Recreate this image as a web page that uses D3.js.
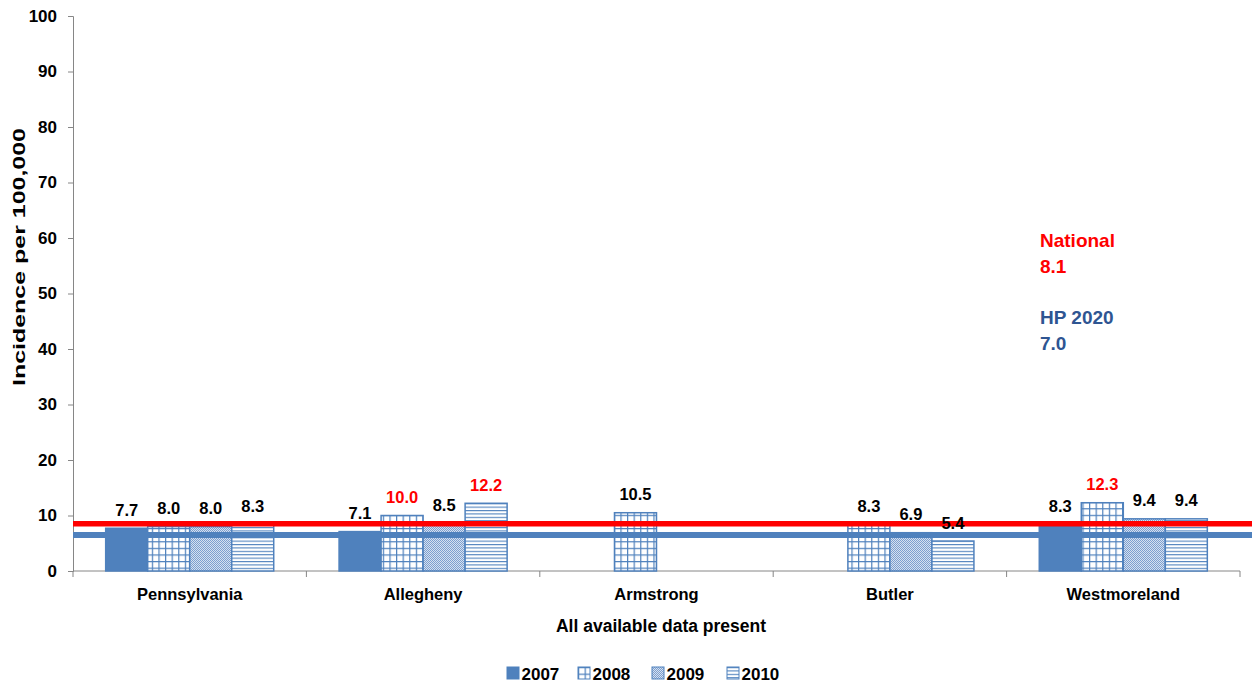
<!DOCTYPE html>
<html><head><meta charset="utf-8">
<script src="https://cdn.jsdelivr.net/npm/d3@7"></script>
<style>body{margin:0;background:#fff;} text{font-family:"Liberation Sans",Arial,sans-serif;}</style>
</head><body><svg id="c" width="1252" height="683"></svg>
<script>
const categories = ["Pennsylvania","Allegheny","Armstrong","Butler","Westmoreland"];
const years = ["2007","2008","2009","2010"];
const v2007 = [7.7, 7.1, null, null, 8.3];
const v2008 = [8.0, 10.0, 10.5, 8.3, 12.3];
const v2009 = [8.0, 8.5, null, 6.9, 9.4];
const v2010 = [8.3, 12.2, null, 5.4, 9.4];
const redLabels = [[1,"2008"],[1,"2010"],[4,"2008"]];
const yTicks = [0,10,20,30,40,50,60,70,80,90,100];
const refLineValues = [8.5, 6.5]; // drawn positions of National / HP 2020 lines
const refLabels = [["National","8.1"],["HP 2020","7.0"]];

(function(){
const series = [v2007, v2008, v2009, v2010];
const svg = d3.select("#c");
const blue = "#4F81BD";
const pLeft = 73, pRight = 1240, pTop = 16, pBottom = 571;

const defs = svg.append("defs");
let p = defs.append("pattern").attr("id","p2008").attr("patternUnits","userSpaceOnUse").attr("width",6.6).attr("height",6.6);
p.append("rect").attr("width",6.6).attr("height",6.6).attr("fill","#fff");
p.append("rect").attr("x",0).attr("y",0).attr("width",1.2).attr("height",6.6).attr("fill",blue);
p.append("rect").attr("x",0).attr("y",0).attr("width",6.6).attr("height",1.2).attr("fill",blue);
p = defs.append("pattern").attr("id","p2009").attr("patternUnits","userSpaceOnUse").attr("width",2).attr("height",2);
p.append("rect").attr("width",2).attr("height",2).attr("fill","#d6e1f0");
p.append("rect").attr("width",1).attr("height",1).attr("fill","#7d9fcf");
p.append("rect").attr("x",1).attr("y",1).attr("width",1).attr("height",1).attr("fill","#7d9fcf");
p = defs.append("pattern").attr("id","p2010").attr("patternUnits","userSpaceOnUse").attr("width",4).attr("height",3.4);
p.append("rect").attr("width",4).attr("height",3.4).attr("fill","#fff");
p.append("rect").attr("y",0).attr("width",4).attr("height",1.1).attr("fill",blue);
const fills = [blue, "url(#p2008)", "url(#p2009)", "url(#p2010)"];

const x = d3.scaleBand().domain(categories).range([pLeft,pRight]).paddingInner(0).paddingOuter(0);
const bw = x.bandwidth()*0.18;
const xs = d3.scaleBand().domain(years).range([0, bw*4]);
const y = d3.scaleLinear().domain([0,100]).range([pBottom,pTop]);

// y axis
const ya = svg.append("g").attr("transform",`translate(${pLeft},0)`).call(d3.axisLeft(y).tickValues(yTicks).tickSize(5).tickPadding(11));
ya.select(".domain").attr("stroke","#868686");
ya.selectAll(".tick line").attr("stroke","#868686");
ya.selectAll("text").attr("font-size",17).attr("font-weight","bold").attr("fill","#000").style("font-family","Liberation Sans, Arial");

// x axis
const xa = svg.append("g").attr("transform",`translate(0,${pBottom})`);
xa.append("line").attr("x1",pLeft).attr("x2",pRight).attr("stroke","#868686");
const bounds = categories.map(c=>x(c)).concat([pRight]);
xa.selectAll("line.t").data(bounds).enter().append("line").attr("class","t").attr("x1",d=>d).attr("x2",d=>d).attr("y1",0).attr("y2",6).attr("stroke","#868686");
xa.selectAll("text").data(categories).enter().append("text").attr("x",d=>x(d)+x.bandwidth()/2).attr("y",29)
  .attr("text-anchor","middle").attr("font-size",16.5).attr("font-weight","bold").text(d=>d);

// bars
const bars = [];
series.forEach((s,si)=>s.forEach((v,ci)=>{ if(v!=null) bars.push({c:categories[ci],ci,yr:years[si],si,v}); }));
const gx = c => x(c)+x.bandwidth()/2-bw*2;
svg.append("g").selectAll("rect").data(bars).enter().append("rect")
  .attr("x",d=>gx(d.c)+xs(d.yr)).attr("width",xs.bandwidth()).attr("y",d=>y(d.v)).attr("height",d=>y(0)-y(d.v))
  .attr("fill",d=>fills[d.si]).attr("stroke",blue).attr("stroke-width",1.5);

// reference lines
const lineCols = ["#FF0000","#4F81BD"];
svg.append("g").selectAll("line").data(refLineValues).enter().append("line")
  .attr("x1",pLeft).attr("x2",1252).attr("y1",d=>y(d)).attr("y2",d=>y(d))
  .attr("stroke",(d,i)=>lineCols[i]).attr("stroke-width",(d,i)=>i===0?5.5:6);

// value labels
const isRed = d => redLabels.some(r=>r[0]===d.ci && r[1]===d.yr);
svg.append("g").selectAll("text").data(bars).enter().append("text")
  .attr("x",d=>gx(d.c)+xs(d.yr)+xs.bandwidth()/2).attr("y",d=>y(d.v)-12.5)
  .attr("text-anchor","middle").attr("font-size",16.5).attr("font-weight","bold")
  .attr("fill",d=>isRed(d)?"#FF0000":"#000").text(d=>d.v.toFixed(1));

// reference annotations
const annCols = ["#FF0000","#2E5592"];
const annY = [247, 324];
refLabels.forEach((l,i)=>{
  l.forEach((t,j)=>svg.append("text").attr("x",1040).attr("y",annY[i]+j*26).attr("font-size",19).attr("font-weight","bold").attr("fill",annCols[i]).text(t));
});

// axis titles
svg.append("text").attr("transform",`translate(25,257) rotate(-90)`).attr("text-anchor","middle")
  .attr("font-size",17).attr("font-weight","bold").attr("textLength",258).attr("lengthAdjust","spacingAndGlyphs").text("Incidence per 100,000");
svg.append("text").attr("x",661).attr("y",632).attr("text-anchor","middle").attr("font-size",17.5).attr("font-weight","bold").text("All available data present");

// legend
const lx = [507, 578, 652, 727];
const lg = svg.append("g").selectAll("g").data(years).enter().append("g").attr("transform",(d,i)=>`translate(${lx[i]},667)`);
lg.append("rect").attr("width",12).attr("height",12).attr("fill",(d,i)=>fills[i]).attr("stroke",blue).attr("stroke-width",1);
lg.append("text").attr("x",14.5).attr("y",13).attr("font-size",17).attr("font-weight","bold").text(d=>d);
})();
</script></body></html>
